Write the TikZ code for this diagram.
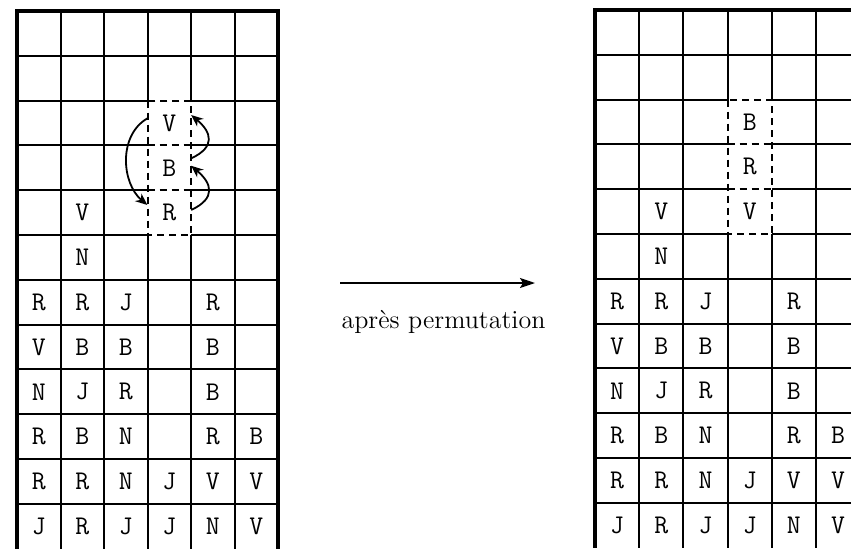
\documentclass[tikz,border=0pt]{standalone}
\usepackage{tikz}
\usetikzlibrary{arrows.meta,positioning}
\tikzset{
    grid line/.style={line width=1pt},
    tray border/.style={line width=2pt},
    swap box/.style={line width=1pt, dash pattern=on 3.5pt off 2.5pt},
    cell/.style={rectangle, inner sep=0pt, minimum width=21.5pt, minimum height=22.4pt,
        font=\ttfamily\fontsize{13.5}{13.5}\selectfont},
    swap arrow/.style={-{Stealth[length=6pt,width=5pt]}, line width=0.9pt},
    perm arrow/.style={-{Stealth[length=7.5pt,width=5pt,inset=1.5pt]}, line width=0.9pt},
    perm label/.style={font=\fontsize{13}{15}\selectfont},
    tray/.pic={
        \foreach \r in {1,6,7,8,9,10,11} \draw[grid line] (0,-\r) -- (6,-\r);
        \foreach \r in {2,...,5} \draw[grid line] (0,-\r) -- (3,-\r) (4,-\r) -- (6,-\r);
        \foreach \c in {1,2,5} \draw[grid line] (\c,0) -- (\c,-12);
        \foreach \c in {3,4} \draw[grid line] (\c,0) -- (\c,-2) (\c,-5) -- (\c,-12);
        \draw[swap box] (3,-2) rectangle (4,-5) (3,-3) -- (4,-3) (3,-4) -- (4,-4);
        \draw[tray border] (0,-12) -- (0,0) -- (6,0) -- (6,-12);
    }
}
% cells that stay in place (column/row/colour)
\def\basecells{1/4/V, 1/5/N,
    0/6/R, 1/6/R, 2/6/J, 4/6/R,
    0/7/V, 1/7/B, 2/7/B, 4/7/B,
    0/8/N, 1/8/J, 2/8/R, 4/8/B,
    0/9/R, 1/9/B, 2/9/N, 4/9/R, 5/9/B,
    0/10/R, 1/10/R, 2/10/N, 3/10/J, 4/10/V, 5/10/V,
    0/11/J, 1/11/R, 2/11/J, 3/11/J, 4/11/N, 5/11/V}

\begin{document}
\begin{tikzpicture}[x=0.5pt, y=0.5pt]
    \useasboundingbox (0,0) rectangle (851,548);

    % before
    \begin{scope}[xshift=8.5pt, yshift=268.5pt, x=21.75pt, y=22.4pt]
        \pic {tray};
        \foreach \c/\r/\t in \basecells
            \node[cell] (avant-\c-\r) at (\c+0.5,-\r-0.5) {\t};
        \node[cell] (avant-V) at (3.5,-2.5) {V};
        \node[cell] (avant-B) at (3.5,-3.5) {B};
        \node[cell] (avant-R) at (3.5,-4.5) {R};
        \draw[swap arrow] ([yshift=2.3pt]avant-V.west) to[out=210, in=140] ([yshift=3.8pt]avant-R.west);
        \draw[swap arrow] ([yshift=4.7pt]avant-B.east) to[out=25, in=-40, looseness=1.6] ([yshift=4pt]avant-V.east);
        \draw[swap arrow] ([yshift=1.3pt]avant-R.east) to[out=25, in=-40, looseness=1.6] ([yshift=1pt]avant-B.east);
    \end{scope}

    % after
    \begin{scope}[xshift=297.5pt, yshift=269pt, x=22.1pt, y=22.4pt]
        \pic {tray};
        \foreach \c/\r/\t in \basecells
            \node[cell] (apres-\c-\r) at (\c+0.5,-\r-0.5) {\t};
        \node[cell] (apres-B) at (3.5,-2.5) {B};
        \node[cell] (apres-R) at (3.5,-3.5) {R};
        \node[cell] (apres-V) at (3.5,-4.5) {V};
    \end{scope}

    \coordinate (perm-start) at (340,265);
    \coordinate (perm-end) at (535,265);
    \draw[perm arrow] (perm-start) -- (perm-end)
        node[midway, perm label, anchor=base, xshift=3pt, yshift=-22.5pt] (perm) {après permutation};
\end{tikzpicture}
\end{document}
